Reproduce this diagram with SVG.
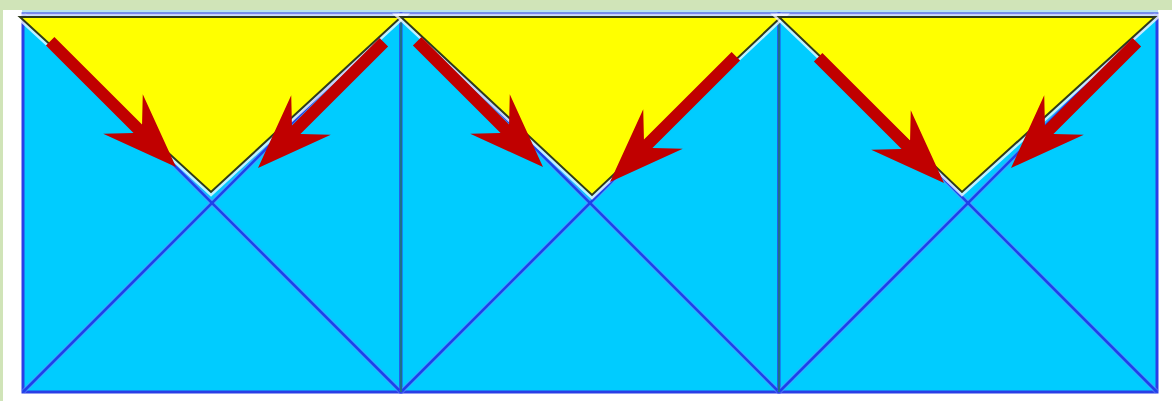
<svg xmlns="http://www.w3.org/2000/svg" width="1172" height="401" viewBox="0 0 1172 401">
  <defs>
    <style>
      .sq { fill: #00ccff; stroke: #2a3ee6; stroke-width: 3; }
      .diag-halo { stroke: #6a8cff; stroke-width: 5; stroke-opacity: 0.5; fill: none; }
      .diag { stroke: #1f40ea; stroke-width: 2.6; fill: none; }
      .divider { stroke: #1f6f88; stroke-width: 2; }
      .tri-halo { fill: none; stroke: #ffffff; stroke-width: 7; stroke-opacity: 0.75; stroke-linejoin: miter; }
      .tri { fill: #ffff00; stroke: #2e3a1c; stroke-width: 2; stroke-linejoin: miter; }
      .arrow { fill: #c00000; }
    </style>
    <path id="arrowShape" d="M0,0 L-75,-28 L-54,-6 L-178,-6 L-178,6 L-54,6 L-75,28 Z"/>
  </defs>

  <!-- background -->
  <rect x="0" y="0" width="1172" height="401" fill="#ffffff"/>
  <rect x="0" y="0" width="1172" height="10" fill="#d0e4b8"/>
  <rect x="0" y="0" width="3" height="401" fill="#d0e4b8"/>
  <rect x="22" y="10" width="1136" height="5" fill="#b8e4ee"/>

  <!-- squares -->
  <g id="square1">
    <rect class="sq" x="23" y="14" width="378" height="378"/>
    <line class="diag-halo" x1="23" y1="14" x2="401" y2="392"/>
    <line class="diag-halo" x1="401" y1="14" x2="23" y2="392"/>
    <line class="diag" x1="23" y1="14" x2="401" y2="392"/>
    <line class="diag" x1="401" y1="14" x2="23" y2="392"/>
  </g>
  <g id="square2">
    <rect class="sq" x="401" y="14" width="378" height="378"/>
    <line class="diag-halo" x1="401" y1="14" x2="779" y2="392"/>
    <line class="diag-halo" x1="779" y1="14" x2="401" y2="392"/>
    <line class="diag" x1="401" y1="14" x2="779" y2="392"/>
    <line class="diag" x1="779" y1="14" x2="401" y2="392"/>
  </g>
  <g id="square3">
    <rect class="sq" x="779" y="14" width="378" height="378"/>
    <line class="diag-halo" x1="779" y1="14" x2="1157" y2="392"/>
    <line class="diag-halo" x1="1157" y1="14" x2="779" y2="392"/>
    <line class="diag" x1="779" y1="14" x2="1157" y2="392"/>
    <line class="diag" x1="1157" y1="14" x2="779" y2="392"/>
  </g>

  <!-- dividers -->
  <g id="dividers">
    <line class="divider" x1="401" y1="14" x2="401" y2="392"/>
    <line class="divider" x1="779" y1="14" x2="779" y2="392"/>
  </g>

  <!-- yellow triangles -->
  <g id="triangle1">
    <polygon class="tri-halo" points="20,17 401,17 211,192"/>
    <polygon class="tri" points="20,17 401,17 211,192"/>
  </g>
  <g id="triangle2">
    <polygon class="tri-halo" points="401,17 781,17 592,195"/>
    <polygon class="tri" points="401,17 781,17 592,195"/>
  </g>
  <g id="triangle3">
    <polygon class="tri-halo" points="779,17 1155,17 962,192"/>
    <polygon class="tri" points="779,17 1155,17 962,192"/>
  </g>

  <!-- arrows -->
  <g id="connectors">
    <use href="#arrowShape" class="arrow" transform="translate(176,167) rotate(45)"/>
    <use href="#arrowShape" class="arrow" transform="translate(258,168) rotate(135)"/>
    <use href="#arrowShape" class="arrow" transform="translate(543,167) rotate(45)"/>
    <use href="#arrowShape" class="arrow" transform="translate(610,182) rotate(135)"/>
    <use href="#arrowShape" class="arrow" transform="translate(944,183) rotate(45)"/>
    <use href="#arrowShape" class="arrow" transform="translate(1011,168) rotate(135)"/>
  </g>
</svg>
